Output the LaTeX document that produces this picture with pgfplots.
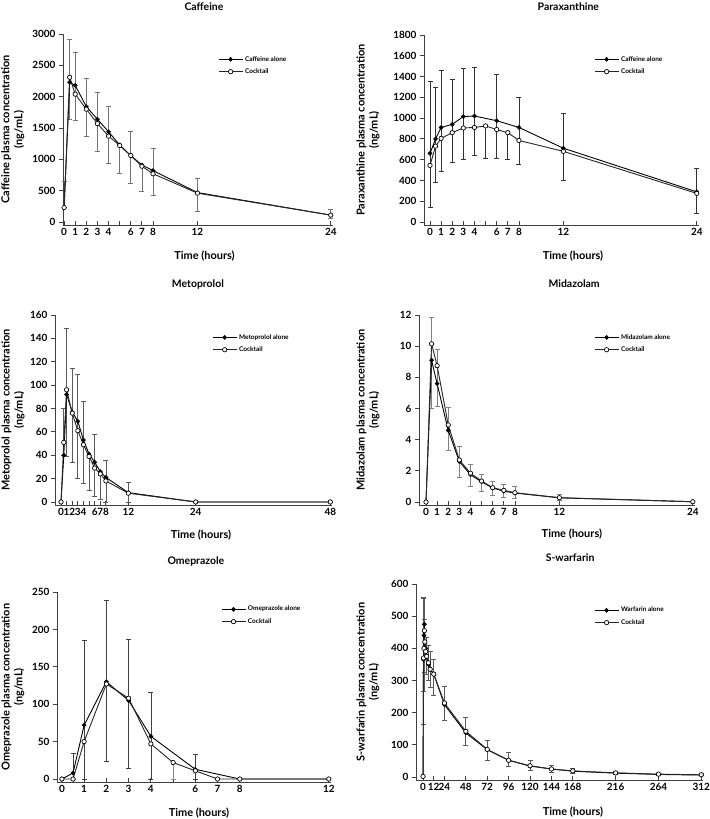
\documentclass[border=0pt]{standalone}
\usepackage{fontspec}
\setmainfont{Lato}
\usepackage{pgfplots}
\pgfplotsset{compat=1.18}
\pgfplotsset{
 every axis title shift=0pt,
 panel/.style={
  scale only axis,
  axis x line*=bottom, axis y line*=left,
  axis line style={black!75, line width=0.8bp},
  every tick/.style={black!75, line width=0.8bp},
  major tick length=4bp,
  ytick align=outside, xtick align=inside,
  tick label style={font=\fontsize{10}{12}\selectfont\bfseries},
  /pgf/number format/assume math mode=true,
  /pgf/number format/1000 sep={},
  xlabel={Time (hours)},
  label style={font=\fontsize{11}{13}\selectfont\bfseries},
  title style={font=\fontsize{10.5}{12}\selectfont\bfseries},
  ylabel style={align=center},
  legend style={draw=none, fill=none, font=\fontsize{6.5}{7.5}\selectfont\bfseries, anchor=north west, legend cell align=left, inner sep=0pt, row sep=2bp},
  legend image code/.code={\draw[mark repeat=2,mark phase=2,##1] plot coordinates {(0bp,0bp) (12bp,0bp) (24bp,0bp)};},
  clip=false,
 },
 alone/.style={black, line width=0.9bp, mark=*, mark size=1.8bp, mark options={solid, fill=black, draw=black}},
 cock/.style={black!85, line width=0.9bp, mark=*, mark size=2.2bp, mark options={solid, fill=white, draw=black, line width=0.7bp}},
 eb/.style={draw=none, mark=none, forget plot, error bars/.cd, y dir=both, y explicit, error bar style={draw=#1, line width=0.7bp}, error mark options={draw=#1, line width=0.7bp, mark size=2.5bp, rotate=90}},
}
\begin{document}
\begin{tikzpicture}
\path[use as bounding box] (0,0) rectangle (710bp,-819bp);

% ---------- Caffeine ----------
\begin{axis}[panel, at={(63bp,-225bp)}, anchor=south west, width=270bp, height=191bp,
  xmin=-0.1, xmax=24.2, ymin=-48, ymax=3000,
  xtick={0,1,2,3,4,5,6,7,8,12,24}, xticklabels={0,1,2,3,4,,6,7,8,12,24},
  ytick={0,500,...,3000},
  title={Caffeine}, title style={at={(axis description cs:0.522,1)}, anchor=center, yshift=27bp},
  ylabel={Caffeine plasma concentration\\(ng/mL)},
  ylabel style={at={(axis description cs:-0.13,0.5)}, anchor=south},
  xlabel style={at={(axis description cs:0.524,-0.162)}, anchor=center},
  legend style={at={(axis description cs:0.574,0.895)}}]
\addplot[eb=black!55] coordinates {
 (0,230) += (0,420) -= (0,0)
 (0.5,2230) += (0,690) -= (0,590)
 (1,2180) += (0,530) -= (0,560)
 (2,1840) += (0,450) -= (0,470)
 (3,1640) += (0,430) -= (0,520)
 (4,1440) += (0,400) -= (0,510)
 (5,1220) += (0,0) -= (0,440)
 (6,1060) += (0,390) -= (0,450)
 (7,890) += (0,0) -= (0,400)
 (8,820) += (0,360) -= (0,400)
 (12,470) += (0,230) -= (0,300)
 (24,110) += (0,90) -= (0,50)};
\addplot[alone] coordinates {(0,230) (0.5,2230) (1,2180) (2,1840) (3,1640) (4,1440) (5,1230) (6,1060) (7,910) (8,820) (12,470) (24,110)};
\addplot[cock] coordinates {(0,230) (0.5,2310) (1,2040) (2,1800) (3,1570) (4,1370) (5,1220) (6,1060) (7,890) (8,770) (12,460) (24,110)};
\legend{Caffeine alone, Cocktail}
\end{axis}

% ---------- Paraxanthine ----------
\begin{axis}[panel, at={(424bp,-225bp)}, anchor=south west, width=275bp, height=190bp,
  xmin=-0.54, xmax=24.2, ymin=-29, ymax=1800,
  xtick={0,1,2,3,4,5,6,7,8,12,24}, xticklabels={0,1,2,3,4,,6,7,8,12,24},
  ytick={0,200,...,1800},
  title={Paraxanthine}, title style={at={(axis description cs:0.525,1)}, anchor=center, yshift=28bp},
  ylabel={Paraxanthine plasma concentration\\(ng/mL)},
  ylabel style={at={(axis description cs:-0.149,0.5)}, anchor=south},
  xlabel style={at={(axis description cs:0.542,-0.163)}, anchor=center},
  legend style={at={(axis description cs:0.618,0.9)}}]
\addplot[eb=black!80] coordinates {
 (0,660) += (0,690) -= (0,520)
 (0.5,800) += (0,500) -= (0,420)
 (1,910) += (0,550) -= (0,420)
 (2,940) += (0,435) -= (0,365)
 (3,1015) += (0,460) -= (0,410)
 (4,1020) += (0,470) -= (0,375)
 (5,925) += (0,0) -= (0,310)
 (6,975) += (0,450) -= (0,360)
 (7,860) += (0,0) -= (0,260)
 (8,910) += (0,290) -= (0,355)
 (12,710) += (0,340) -= (0,310)
 (24,290) += (0,230) -= (0,210)};
\addplot[alone] coordinates {(0,660) (0.5,800) (1,910) (2,940) (3,1015) (4,1020) (6,975) (8,910) (12,710) (24,290)};
\addplot[cock] coordinates {(0,545) (0.5,730) (1,805) (2,860) (3,905) (4,910) (5,925) (6,890) (7,860) (8,785) (12,680) (24,275)};
\legend{Caffeine alone, Cocktail}
\end{axis}

% ---------- Metoprolol ----------
\begin{axis}[panel, at={(55bp,-505bp)}, anchor=south west, width=277bp, height=190bp,
  xmin=-1.07, xmax=48.3, ymin=-2.6, ymax=160,
  xtick={0,1,2,3,4,5,6,7,8,12,24,48}, xticklabels={0,1,2,3,4,,6,7,8,12,24,48},
  ytick={0,20,...,160},
  title={Metoprolol}, title style={at={(axis description cs:0.516,1)}, anchor=center, yshift=31bp},
  ylabel={Metoprolol plasma concentration\\(ng/mL)},
  ylabel style={at={(axis description cs:-0.097,0.5)}, anchor=south},
  xlabel style={at={(axis description cs:0.527,-0.158)}, anchor=center},
  legend style={at={(axis description cs:0.567,0.91)}}]
\addplot[eb=black!65] coordinates {
 (0.5,40) += (0,40) -= (0,0)
 (1,92) += (0,57) -= (0,53)
 (2,77) += (0,37) -= (0,43)
 (3,69) += (0,40) -= (0,49)
 (4,53) += (0,33) -= (0,37)
 (5,40) += (0,0) -= (0,30)
 (6,34) += (0,24) -= (0,29)
 (7,25) += (0,0) -= (0,22.5)
 (8,21) += (0,15) -= (0,21)
 (12,8) += (0,9) -= (0,8)};
\addplot[alone] coordinates {(0,0) (0.5,40) (1,92) (2,77) (3,69) (4,53) (5,41) (6,34) (7,26) (8,21) (12,8) (24,0) (48,0)};
\addplot[cock] coordinates {(0,0) (0.5,51) (1,96) (2,76) (3,61) (4,49) (5,39) (6,29) (7,24) (8,18) (12,7.5) (24,0) (48,0)};
\legend{Metoprolol alone, Cocktail}
\end{axis}

% ---------- Midazolam ----------
\begin{axis}[panel, at={(419bp,-505bp)}, anchor=south west, width=276bp, height=190bp,
  xmin=-0.63, xmax=24.2, ymin=-0.19, ymax=12,
  xtick={0,1,2,3,4,5,6,7,8,12,24}, xticklabels={0,1,2,3,4,,6,7,8,12,24},
  ytick={0,2,...,12},
  title={Midazolam}, title style={at={(axis description cs:0.562,1)}, anchor=center, yshift=31bp},
  ylabel={Midazolam plasma concentration\\(ng/mL)},
  ylabel style={at={(axis description cs:-0.13,0.5)}, anchor=south},
  xlabel style={at={(axis description cs:0.554,-0.153)}, anchor=center},
  legend style={at={(axis description cs:0.634,0.91)}}]
\addplot[eb=black!50] coordinates {
 (0.5,10.15) += (0,1.7) -= (0,4.15)
 (1,8.75) += (0,1.05) -= (0,2.6)
 (2,4.95) += (0,1.15) -= (0,1.65)
 (3,2.7) += (0,0.9) -= (0,1.1)
 (4,1.85) += (0,0.58) -= (0,0.85)
 (5,1.35) += (0,0.45) -= (0,0.67)
 (6,0.92) += (0,0.43) -= (0,0.52)
 (7,0.75) += (0,0.4) -= (0,0.45)
 (8,0.6) += (0,0.4) -= (0,0.35)
 (12,0.28) += (0,0.22) -= (0,0.16)};
\addplot[alone] coordinates {(0,0) (0.5,9.1) (1,7.6) (2,4.6) (3,2.6) (4,1.75) (5,1.3) (6,0.9) (7,0.7) (8,0.58) (12,0.27) (24,0.02)};
\addplot[cock] coordinates {(0,0) (0.5,10.15) (1,8.75) (2,4.95) (3,2.7) (4,1.85) (5,1.35) (6,0.92) (7,0.75) (8,0.6) (12,0.28) (24,0.02)};
\legend{Midazolam alone, Cocktail}
\end{axis}

% ---------- Omeprazole ----------
\begin{axis}[panel, at={(57bp,-782bp)}, anchor=south west, width=274bp, height=190bp,
  xmin=-0.22, xmax=12.1, ymin=-4, ymax=250,
  xtick={0,0.5,1,2,3,4,5,6,7,8,12}, xticklabels={0,,1,2,3,4,,6,7,8,12},
  ytick={0,50,...,250},
  title={Omeprazole}, title style={at={(axis description cs:0.507,1)}, anchor=center, yshift=31bp},
  ylabel={Omeprazole plasma concentration\\(ng/mL)},
  ylabel style={at={(axis description cs:-0.106,0.5)}, anchor=south},
  xlabel style={at={(axis description cs:0.518,-0.163)}, anchor=center},
  legend style={at={(axis description cs:0.598,0.937)}}]
\addplot[eb=black!75] coordinates {
 (0.5,8) += (0,26) -= (0,8)
 (1,72) += (0,113) -= (0,72)
 (2,130) += (0,109) -= (0,106)
 (3,105) += (0,82) -= (0,91)
 (4,57) += (0,59) -= (0,57)
 (6,13) += (0,20) -= (0,13)};
\addplot[eb=black!45] coordinates {
 (5,22) += (0,0) -= (0,22)};
\addplot[alone] coordinates {(0,0) (0.5,8) (1,72) (2,130) (3,105) (4,57) (6,13) (8,0) (12,0)};
\addplot[cock] coordinates {(0,0) (0.5,0) (1,50) (2,127) (3,108) (4,47) (5,22) (6,11) (7,0) (8,0) (12,0)};
\legend{Omeprazole alone, Cocktail}
\end{axis}

% ---------- S-warfarin ----------
\begin{axis}[panel, at={(416bp,-780bp)}, anchor=south west, width=287bp, height=196bp,
  xmin=-7.9, xmax=314, ymin=-9.3, ymax=600,
  xtick={0,12,24,48,72,96,120,144,168,216,264,312},
  ytick={0,100,...,600},
  title={S-warfarin}, title style={at={(axis description cs:0.537,1)}, anchor=center, yshift=26bp},
  ylabel={S-warfarin plasma concentration\\(ng/mL)},
  ylabel style={at={(axis description cs:-0.115,0.5)}, anchor=south},
  xlabel style={at={(axis description cs:0.547,-0.163)}, anchor=center},
  legend style={at={(axis description cs:0.62,0.893)}}]
\addplot[eb=black!65] coordinates {
 (0.5,365) += (0,190) -= (0,200)
 (1,440) += (0,120) -= (0,175)
 (2,420) += (0,70) -= (0,95)
 (4,375) += (0,60) -= (0,55)
 (6,355) += (0,55) -= (0,55)
 (8,335) += (0,55) -= (0,55)
 (12,320) += (0,45) -= (0,65)
 (24,228) += (0,54) -= (0,53)
 (48,140) += (0,45) -= (0,42)
 (72,85) += (0,30) -= (0,32)
 (96,52) += (0,26) -= (0,20)
 (120,35) += (0,16) -= (0,15)
 (144,25) += (0,12) -= (0,10)
 (168,19) += (0,9) -= (0,9)
 (216,13) += (0,4) -= (0,5)
 (264,9) += (0,3) -= (0,4)
 (312,7) += (0,3) -= (0,3)};
\addplot[alone] coordinates {(0,2) (0.5,365) (1,440) (1.5,475) (2,420) (3,400) (4,375) (6,350) (8,335) (12,320) (24,225) (48,137) (72,85) (96,52) (120,34) (144,25) (168,18) (216,12) (264,8) (312,6)};
\addplot[cock] coordinates {(0,2) (0.5,370) (1,400) (1.5,455) (2,420) (3,390) (4,375) (6,355) (8,335) (12,320) (24,230) (48,142) (72,86) (96,52) (120,35) (144,25) (168,19) (216,13) (264,9) (312,7)};
\legend{Warfarin alone, Cocktail}
\end{axis}
\end{tikzpicture}
\end{document}
